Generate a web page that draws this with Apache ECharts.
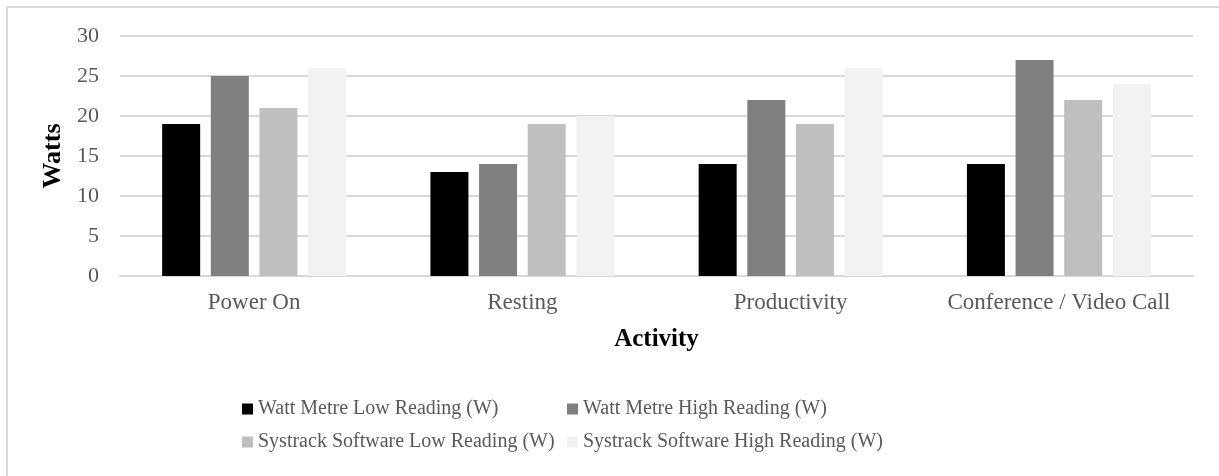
<!DOCTYPE html>
<html>
<head>
<meta charset="utf-8">
<script src="https://cdn.jsdelivr.net/npm/echarts@6/dist/echarts.min.js"></script>
<style>html,body{margin:0;padding:0;background:#fff}#c{width:1219px;height:476px}</style>
</head>
<body>
<div id="c"></div>
<script>
const categories = ['Power On', 'Resting', 'Productivity', 'Conference / Video Call'];
const seriesNames = ['Watt Metre Low Reading (W)', 'Watt Metre High Reading (W)', 'Systrack Software Low Reading (W)', 'Systrack Software High Reading (W)'];
const wattLow = [19, 13, 14, 14];
const wattHigh = [25, 14, 22, 27];
const sysLow = [21, 19, 19, 22];
const sysHigh = [26, 20, 26, 24];
const yTicks = [0, 5, 10, 15, 20, 25, 30];

const colors = ['#000000', '#7f7f7f', '#bfbfbf', '#f2f2f2'];
const FONT = '"Liberation Serif", "Times New Roman", serif';
const values = [wattLow, wattHigh, sysLow, sysHigh];

const chart = echarts.init(document.getElementById('c'));
const legendPos = [[242, 399], [567, 399], [242, 432], [567, 432]];
chart.setOption({
  animation: false,
  backgroundColor: '#fff',
  graphic: [{
    type: 'rect', shape: {x: 7, y: 7, width: 1300, height: 600},
    style: {fill: 'none', stroke: '#d9d9d9', lineWidth: 2}, silent: true, z: -10
  }],
  grid: {left: 120, right: 26, top: 36, bottom: 200},
  legend: seriesNames.map((n, i) => ({
    data: [n], left: legendPos[i][0], top: legendPos[i][1], padding: 0,
    icon: 'rect', itemWidth: 11, itemHeight: 11, itemGap: 0,
    textStyle: {fontFamily: FONT, fontSize: 20, color: '#595959'}
  })),
  xAxis: {
    type: 'category', data: categories,
    name: 'Activity', nameLocation: 'middle', nameGap: 51,
    nameTextStyle: {fontFamily: FONT, fontSize: 25, fontWeight: 'bold', color: '#000'},
    axisLine: {lineStyle: {color: '#d9d9d9', width: 2}},
    axisTick: {show: false},
    axisLabel: {interval: 0, fontFamily: FONT, fontSize: 23, color: '#595959', margin: 15}
  },
  yAxis: {
    type: 'value', min: yTicks[0], max: yTicks[yTicks.length - 1], interval: yTicks[1] - yTicks[0],
    name: 'Watts', nameLocation: 'middle', nameGap: 53,
    nameTextStyle: {fontFamily: FONT, fontSize: 26, fontWeight: 'bold', color: '#000'},
    axisLine: {show: false}, axisTick: {show: false},
    axisLabel: {fontFamily: FONT, fontSize: 22, color: '#595959', margin: 21},
    splitLine: {lineStyle: {color: '#d9d9d9', width: 2}}
  },
  series: seriesNames.map((n, i) => ({
    name: n, type: 'bar', data: values[i], barWidth: 38, barGap: '28%',
    itemStyle: {color: colors[i]}
  }))
});
</script>
</body>
</html>
